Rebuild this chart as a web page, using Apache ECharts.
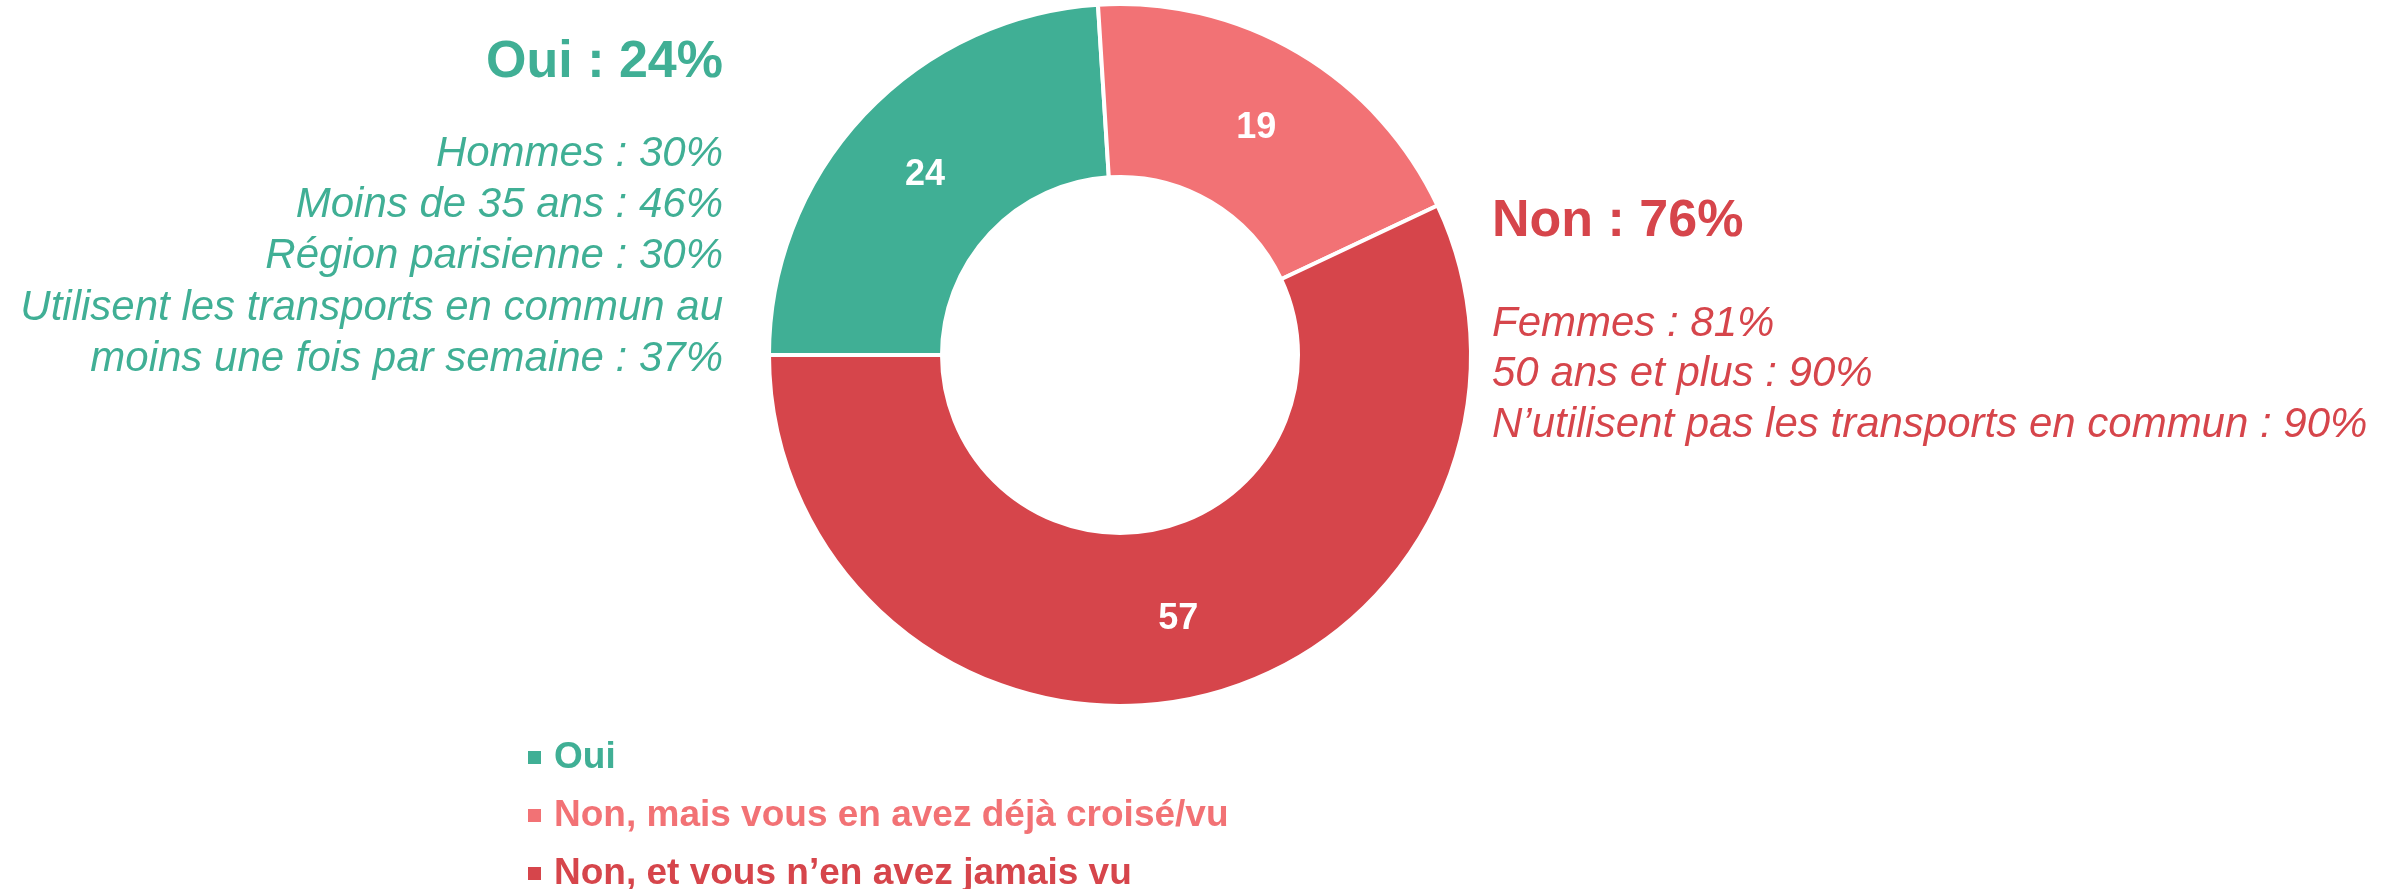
<!DOCTYPE html>
<html>
<head>
<meta charset="utf-8">
<script src="https://cdn.jsdelivr.net/npm/echarts@6/dist/echarts.min.js"></script>
<style>
  html, body { margin: 0; padding: 0; background: #fff; }
  #chart { width: 2396px; height: 889px; }
</style>
</head>
<body>
<div id="chart"></div>
<script>
// données
const categories = ['Oui', 'Non, mais vous en avez déjà croisé/vu', 'Non, et vous n’en avez jamais vu']
const values = [24, 19, 57]
const colors = ['#40AF95', '#F27275', '#D6454B']

const ouiTitle = 'Oui : 24%'
const ouiDetails = [
  'Hommes : 30%',
  'Moins de 35 ans : 46%',
  'Région parisienne : 30%',
  'Utilisent les transports en commun au',
  'moins une fois par semaine : 37%'
]
const nonTitle = 'Non : 76%'
const nonDetails = [
  'Femmes : 81%',
  '50 ans et plus : 90%',
  'N’utilisent pas les transports en commun : 90%'
]

const FONT = '"Liberation Sans", Arial, sans-serif'

const chart = echarts.init(document.getElementById('chart'))

// blocs de texte à gauche et à droite du donut
function textLine (text, x, y, color, font, align) {
  return {
    type: 'text',
    x: x,
    y: y,
    style: {
      text: text,
      fill: color,
      font: font,
      align: align,
      verticalAlign: 'middle'
    }
  }
}

const graphics = []
graphics.push(textLine(ouiTitle, 723, 63, colors[0], 'bold 52px ' + FONT, 'right'))
ouiDetails.forEach((t, i) => {
  graphics.push(textLine(t, 723, 154 + i * 51.3, colors[0], 'italic 42px ' + FONT, 'right'))
})
graphics.push(textLine(nonTitle, 1492, 222, colors[2], 'bold 52px ' + FONT, 'left'))
nonDetails.forEach((t, i) => {
  graphics.push(textLine(t, 1492, 324 + i * 50.5, colors[2], 'italic 42px ' + FONT, 'left'))
})

const option = {
  animation: false,
  color: colors,
  legend: {
    orient: 'vertical',
    left: 526,
    top: 739,
    height: 200,
    padding: 0,
    icon: 'rect',
    itemWidth: 15,
    itemHeight: 15,
    itemGap: 21,
    selectedMode: false,
    textStyle: {
      fontFamily: FONT,
      fontSize: 37,
      fontWeight: 'bold',
      lineHeight: 34,
      padding: [0, 0, 0, 7]
    },
    data: categories.map((name, i) => ({
      name: name,
      textStyle: { color: colors[i] }
    }))
  },
  graphic: graphics,
  series: [
    {
      type: 'pie',
      center: [1120, 355],
      radius: [178, 351],
      startAngle: 180,
      clockwise: true,
      avoidLabelOverlap: false,
      itemStyle: {
        borderColor: '#fff',
        borderWidth: 4
      },
      label: {
        show: true,
        position: 'inside',
        formatter: '{c}',
        color: '#fff',
        fontFamily: FONT,
        fontSize: 36,
        fontWeight: 'bold',
        offset: [0, 3]
      },
      labelLine: { show: false },
      emphasis: { disabled: true },
      data: categories.map((name, i) => ({ name: name, value: values[i] }))
    }
  ]
}

chart.setOption(option)
</script>
</body>
</html>
